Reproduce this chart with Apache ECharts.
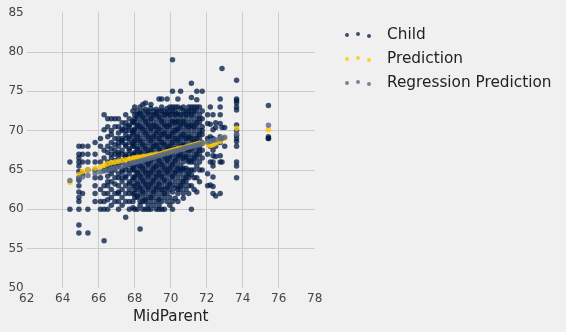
<!DOCTYPE html>
<html>
<head>
<meta charset="utf-8">
<script src="https://cdn.jsdelivr.net/npm/echarts@6/dist/echarts.min.js"></script>
<style>
html,body{margin:0;padding:0;background:#f0f0f0;}
#c{width:566px;height:332px;}
</style>
</head>
<body>
<div id="c"></div>
<script>
// Mid-parent height of each column of points
const midParent = [64.40,64.90,65.10,65.40,65.80,66.10,66.30,66.50,66.70,66.90,
  67.10,67.30,67.50,67.70,67.90,68.00,68.15,68.30,68.45,68.60,
  68.75,68.90,69.05,69.20,69.35,69.50,69.65,69.80,69.95,70.10,
  70.25,70.40,70.55,70.70,70.85,71.00,71.15,71.30,71.45,71.60,
  71.75,72.05,72.20,72.35,72.50,72.75,72.85,73.00,73.66,75.43];

// Child heights observed at each mid-parent value
const childHeights = [
  [66.0,60.0],
  [68.0,67.0,66.5,66.0,65.5,64.8,64.0,63.7,63.0,62.2,61.5,61.0,60.0,58.0,57.0],
  [68.0,67.0,66.0,64.5,62.0],
  [68.0,67.0,66.0,65.0,60.0,57.0],
  [68.5,67.0,66.0,65.0,64.0,63.0,62.0,61.0],
  [69.0,68.0,66.0,64.0,62.5,61.0,60.0],
  [72.0,70.1,67.5,66.5,65.0,63.0,62.0,61.0,60.0,56.0],
  [71.5,70.5,69.2,68.0,67.2,66.0,65.5,65.0,64.2,63.5,63.0,62.0,61.2,60.0],
  [71.5,70.0,69.5,68.5,67.7,67.0,66.5,65.7,65.0,64.5,63.5,62.5,61.5,60.5],
  [71.5,70.5,69.0,68.2,67.5,67.0,66.2,65.5,65.0,64.0,63.2,62.0,61.0],
  [71.5,70.5,69.7,69.0,68.5,68.0,67.2,67.0,66.5,65.7,65.5,64.5,64.0,63.0,62.2,62.0,61.0,60.0],
  [71.0,70.2,70.0,69.0,68.7,68.5,67.5,67.0,66.2,66.0,65.0,64.7,64.0,63.5,62.5,61.5,60.5],
  [72.0,71.0,70.5,70.0,69.5,69.0,68.2,68.0,67.0,66.7,66.5,65.5,65.0,64.2,64.0,63.0,62.0,61.0,59.0],
  [71.5,70.7,70.5,70.0,69.2,69.0,68.5,67.7,67.5,67.0,66.0,65.7,65.0,64.5,63.5,63.2,62.5,62.0,61.0,60.0],
  [72.5,71.2,71.0,70.0,69.7,69.5,68.5,68.2,68.0,67.0,66.7,66.5,65.5,65.2,65.0,64.0,63.7,63.0,62.0,61.0,60.2],
  [73.0,72.0,71.5,71.0,70.2,70.0,69.0,68.7,68.0,67.2,67.0,66.0,65.7,65.0,64.2,64.0,63.0,62.5,62.0,61.5,60.0],
  [72.5,72.0,71.5,70.7,70.5,69.5,69.2,68.5,67.7,67.5,66.5,66.2,65.5,64.7,64.5,63.5,63.2,62.5,61.7,61.5,60.0],
  [73.0,72.2,72.0,71.0,70.5,70.0,69.0,68.7,68.0,67.2,67.0,66.0,65.5,65.0,64.2,64.0,63.0,62.7,62.0,61.0,60.5,57.5],
  [73.3,72.5,71.7,71.5,70.5,70.2,69.5,68.5,68.2,67.5,66.7,66.5,65.5,65.2,64.5,63.7,63.5,62.5,62.2,61.5,61.0,60.0],
  [73.5,72.7,72.0,71.2,71.0,70.0,69.7,69.0,68.0,67.7,67.0,66.2,66.0,65.0,64.7,64.0,63.2,63.0,62.0,61.2,61.0,60.0],
  [72.5,72.2,71.5,70.7,70.5,69.5,69.2,68.5,67.5,67.2,66.5,65.7,65.5,64.5,64.2,63.5,62.7,62.5,61.5,60.5,60.0],
  [73.3,72.8,72.0,71.5,71.0,70.2,70.0,69.0,68.7,68.0,67.5,67.0,66.2,66.0,65.0,64.7,64.0,63.2,63.0,62.0,61.5,61.0,60.0],
  [72.5,72.0,71.5,70.7,70.5,69.5,69.2,68.5,68.0,67.5,66.7,66.5,65.5,65.2,64.5,63.7,63.5,62.5,62.2,61.5,60.5],
  [72.7,72.2,72.0,71.0,70.5,70.0,69.7,69.0,68.2,68.0,67.0,66.7,66.0,65.5,65.0,64.2,64.0,63.0,62.7,62.0,61.0,60.0],
  [74.0,72.5,71.7,71.5,70.5,70.2,69.5,69.0,68.5,67.7,67.5,66.5,66.2,65.5,64.7,64.5,63.5,63.2,62.5,61.5,61.2,60.5,60.0],
  [74.0,73.0,72.5,72.0,71.2,71.0,70.0,69.5,69.0,68.5,68.0,67.2,67.0,66.0,65.7,65.0,64.2,64.0,63.0,62.5,62.0,61.0,60.0],
  [72.5,72.0,71.5,70.7,70.5,69.7,69.5,68.5,68.2,67.5,66.7,66.5,65.5,65.2,64.5,63.7,63.5,62.5,62.0,61.5,60.0],
  [74.0,72.8,72.2,72.0,71.0,70.5,70.0,69.2,69.0,68.0,67.7,67.0,66.2,66.0,65.0,64.7,64.0,63.0,62.7,62.0,61.0],
  [73.0,72.5,72.0,71.5,70.7,70.5,69.5,69.2,68.5,68.0,67.5,66.7,66.5,65.5,65.2,64.5,63.5,63.2,62.5,61.5,60.5],
  [79.0,75.0,73.0,72.5,72.0,71.2,71.0,70.0,69.7,69.0,68.5,68.0,67.2,67.0,66.0,65.7,65.0,64.2,64.0,63.0,62.2,61.0,60.0],
  [73.0,72.5,72.0,71.5,71.0,70.5,70.0,69.5,69.0,68.5,67.7,67.5,66.5,66.2,65.5,64.7,64.5,63.5,62.7,61.4],
  [74.0,73.0,72.2,72.0,71.2,71.0,70.2,70.0,69.0,68.7,68.0,67.0,66.7,66.0,65.2,65.0,64.0,63.0,62.5,62.0,61.0],
  [75.0,72.8,72.0,71.5,70.7,70.5,69.5,69.2,68.5,68.0,67.5,67.0,66.5,65.5,65.0,64.5,63.5,63.0,62.5],
  [73.0,72.5,72.0,71.2,71.0,70.0,69.5,69.0,68.2,68.0,67.0,66.5,66.0,65.2,65.0,64.0,63.5,63.0,62.0,61.4],
  [72.5,72.0,71.5,70.7,70.5,69.5,69.0,68.5,67.7,67.5,66.7,66.5,65.2,64.5,64.0,63.5,62.5],
  [73.0,72.5,72.0,71.0,70.5,70.0,69.2,69.0,68.0,67.5,67.0,66.2,66.0,65.0,64.5,64.0,63.0,62.0],
  [76.0,74.2,73.0,72.5,72.0,71.5,70.7,70.5,69.5,69.0,68.5,67.7,67.5,66.5,66.0,65.0,64.4,63.0,60.0],
  [73.0,72.5,72.0,71.0,70.5,70.0,69.0,68.5,68.0,67.0,66.5,66.0,65.0,64.0,62.5],
  [75.0,73.9,73.0,72.5,71.5,71.0,70.5,69.5,69.0,68.5,67.5,67.0,66.5,65.5,64.0,62.2],
  [73.0,72.0,71.5,71.0,70.0,69.5,69.0,68.0,67.5,67.0,66.0,65.0,63.5],
  [75.0,72.5,71.5,70.5,70.0,69.5,68.5,67.5,66.5,65.0],
  [72.0,70.9,69.0,67.0,64.5,63.0],
  [73.0,70.8,69.2,68.0,66.0,63.1],
  [72.0,70.1,69.0,67.5,66.8,66.0,65.5,64.1,62.9,62.0],
  [71.0,70.4,68.0,66.7,61.7],
  [74.0,73.0,72.0,70.9,69.2,68.5,66.8,66.0,62.0],
  [77.9,70.4,69.0,66.0],
  [70.4,68.0],
  [76.4,74.0,73.8,73.5,73.0,72.6,70.7,70.0,69.4,69.0,68.6,68.0,66.0,65.5,64.0],
  [73.2,69.2,69.0,69.0]
];

// Prediction (average child height of nearby mid-parents)
const prediction = [63.4,64.4,64.8,65.0,65.2,65.4,65.6,65.8,65.9,66.0,
  66.1,66.2,66.3,66.4,66.5,66.5,66.6,66.6,66.7,66.7,
  66.8,66.9,66.9,67.0,67.0,67.1,67.2,67.3,67.4,67.5,
  67.6,67.7,67.8,67.8,67.9,68.0,68.1,68.2,68.3,68.4,
  68.4,68.3,68.1,68.2,68.4,68.6,69.1,69.0,70.3,70.1];

// Regression prediction at each mid-parent value
const regression = [63.66,63.98,64.11,64.30,64.55,64.75,64.87,65.00,65.13,65.26,
  65.38,65.51,65.64,65.77,65.89,65.96,66.05,66.15,66.24,66.34,
  66.43,66.53,66.62,66.72,66.82,66.91,67.01,67.10,67.20,67.29,
  67.39,67.48,67.58,67.68,67.77,67.87,67.96,68.06,68.15,68.25,
  68.34,68.54,68.63,68.73,68.82,68.98,69.04,69.14,69.56,70.69];

const seriesNames = ['Child','Prediction','Regression Prediction'];
const seriesColors = ['#001a44','#ffc800','#576884'];

const childData = [];
midParent.forEach((m, i) => childHeights[i].forEach(h => childData.push([m, h])));
const predData = midParent.map((m, i) => [m, prediction[i]]);
const regData = midParent.map((m, i) => [m, regression[i]]);

const dotsIcon = 'path://M0,3a2,2 0 1,0 4,0a2,2 0 1,0 -4,0z M11,2a2,2 0 1,0 4,0a2,2 0 1,0 -4,0z M22,4a2,2 0 1,0 4,0a2,2 0 1,0 -4,0z';

const chart = echarts.init(document.getElementById('c'), null, {renderer:'canvas'});
const font = 'DejaVu Sans';
chart.setOption({
  backgroundColor:'#f0f0f0',
  animation:false,
  textStyle:{fontFamily:font},
  grid:{left:26.7, right:251.3, top:12.5, bottom:44, containLabel:false},
  xAxis:{
    type:'value', min:62, max:78, interval:2,
    name:'MidParent', nameLocation:'middle', nameGap:22,
    nameTextStyle:{fontFamily:font, fontSize:15.2, color:'#222'},
    axisLine:{show:false}, axisTick:{show:false},
    axisLabel:{fontFamily:font, fontSize:12, color:'#444', margin:5},
    splitLine:{show:true, showMinLine:false, showMaxLine:false, lineStyle:{color:'#cbcbcb', width:1}}
  },
  yAxis:{
    type:'value', min:50, max:85, interval:5,
    axisLine:{show:false}, axisTick:{show:false},
    axisLabel:{fontFamily:font, fontSize:12, color:'#444', margin:3},
    splitLine:{show:true, showMinLine:false, showMaxLine:false, lineStyle:{color:'#cbcbcb', width:1}}
  },
  legend:{
    orient:'vertical', left:340, top:21,
    itemWidth:26, itemHeight:6, itemGap:6,
    textStyle:{fontFamily:font, fontSize:15.3, color:'#222', padding:[0,0,0,11], lineHeight:18},
    data:seriesNames.map(n => ({name:n, icon:dotsIcon}))
  },
  series:[
    {name:seriesNames[0], type:'scatter', data:childData, symbolSize:5.5,
     itemStyle:{color:seriesColors[0], opacity:0.75}},
    {name:seriesNames[1], type:'scatter', data:predData, symbolSize:5.5,
     itemStyle:{color:seriesColors[1], opacity:0.8}},
    {name:seriesNames[2], type:'scatter', data:regData, symbolSize:5.5,
     itemStyle:{color:seriesColors[2], opacity:0.8}}
  ]
});
</script>
</body>
</html>
